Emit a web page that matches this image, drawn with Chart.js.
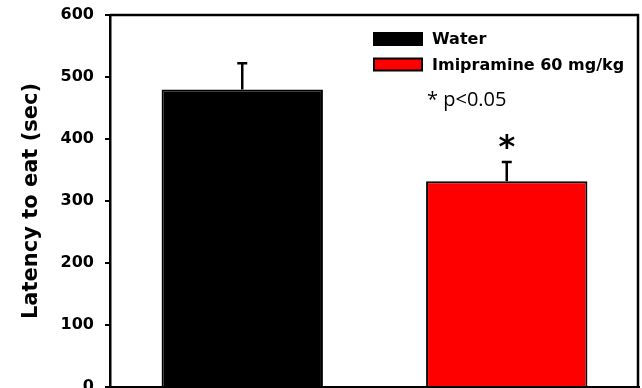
<!DOCTYPE html>
<html>
<head>
<meta charset="utf-8">
<script src="https://cdn.jsdelivr.net/npm/chart.js@4.4.1/dist/chart.umd.min.js"></script>
<style>
  html, body { margin: 0; padding: 0; background: #fff; }
  #wrap { width: 642px; height: 388px; }
</style>
</head>
<body>
<div id="wrap"><canvas id="latChart" width="642" height="388"></canvas></div>
<script>
const groups = ["Water", "Imipramine 60 mg/kg"];
const means = [480, 332];
const sems = [42, 31];
const colors = ["#000000", "#ff0000"];
const yTicks = [0, 100, 200, 300, 400, 500, 600];
const sigNote = "* p<0.05";
const sigMark = [false, true];

// one dataset per group so each gets its own legend entry
const datasets = groups.map((g, i) => ({
    label: g,
    data: groups.map((_, j) => (j === i ? means[i] : null)),
    backgroundColor: colors[i],
    borderColor: "#000",
    borderWidth: 2,
    grouped: false,
    barPercentage: 0.61,
    categoryPercentage: 1,
}));

const extras = {
    id: "extras",
    afterDatasetsDraw(chart) {
        const ctx = chart.ctx;
        const y = chart.scales.y;
        ctx.save();
        ctx.strokeStyle = "#000";
        ctx.lineWidth = 2.5;
        datasets.forEach((ds, i) => {
            const bar = chart.getDatasetMeta(i).data[i];
            const top = y.getPixelForValue(means[i]);
            const cap = y.getPixelForValue(means[i] + sems[i]);
            ctx.beginPath();
            ctx.moveTo(bar.x, top);
            ctx.lineTo(bar.x, cap);
            ctx.moveTo(bar.x - 5, cap);
            ctx.lineTo(bar.x + 5, cap);
            ctx.stroke();
            if (sigMark[i]) {
                ctx.fillStyle = "#000";
                ctx.font = "bold 32px 'DejaVu Sans'";
                ctx.textAlign = "center";
                ctx.textBaseline = "middle";
                ctx.fillText("*", bar.x, cap - 13);
            }
        });
        ctx.restore();
    },
    afterDraw(chart) {
        const ctx = chart.ctx;
        const a = chart.chartArea;
        ctx.save();
        // top and right frame lines
        ctx.strokeStyle = "#000";
        ctx.lineWidth = 2.5;
        ctx.beginPath();
        ctx.moveTo(a.left, a.top);
        ctx.lineTo(a.right - 1, a.top);
        ctx.lineTo(a.right - 1, a.bottom);
        ctx.stroke();

        // legend
        ctx.font = "bold 16px 'DejaVu Sans'";
        ctx.textAlign = "left";
        ctx.textBaseline = "middle";
        const rows = [39, 64.5];
        datasets.forEach((ds, i) => {
            const cy = rows[i];
            ctx.fillStyle = ds.backgroundColor;
            ctx.fillRect(374, cy - 6, 48, 12);
            ctx.strokeStyle = "#000";
            ctx.lineWidth = 2;
            ctx.strokeRect(374, cy - 6, 48, 12);
            ctx.fillStyle = "#000";
            ctx.fillText(ds.label, 432, cy + 1);
        });
        ctx.font = "20px 'Open Sans'";
        ctx.fillText(sigNote, 427, 100);
        ctx.restore();
    },
};

new Chart(document.getElementById("latChart"), {
    type: "bar",
    data: {
        labels: groups,
        datasets: datasets,
    },
    options: {
        responsive: false,
        animation: false,
        layout: {
            padding: { top: 15, right: 3, bottom: 1, left: 0 },
        },
        scales: {
            x: {
                ticks: { display: false },
                grid: { display: false, drawTicks: false },
                border: { color: "#000", width: 2.5 },
            },
            y: {
                min: 0,
                max: 600,
                afterBuildTicks: (scale) => {
                    scale.ticks = yTicks.map(v => ({ value: v }));
                },
                afterFit: (scale) => {
                    scale.width = 110;
                    scale.paddingTop = 0;
                    scale.paddingBottom = 0;
                },
                ticks: {
                    color: "#000",
                    padding: 11,
                    font: { family: "'DejaVu Sans'", size: 16, weight: "bold" },
                },
                grid: {
                    drawOnChartArea: false,
                    drawTicks: true,
                    tickLength: 5,
                    color: "#000",
                    lineWidth: 2,
                },
                border: { color: "#000", width: 2.5 },
                title: {
                    display: true,
                    text: "Latency to eat (sec)",
                    color: "#000",
                    padding: { top: 19, bottom: 0 },
                    font: { family: "'DejaVu Sans'", size: 21, weight: "bold" },
                },
            },
        },
        plugins: {
            legend: { display: false },
            tooltip: { enabled: false },
        },
    },
    plugins: [extras],
});
</script>
</body>
</html>
